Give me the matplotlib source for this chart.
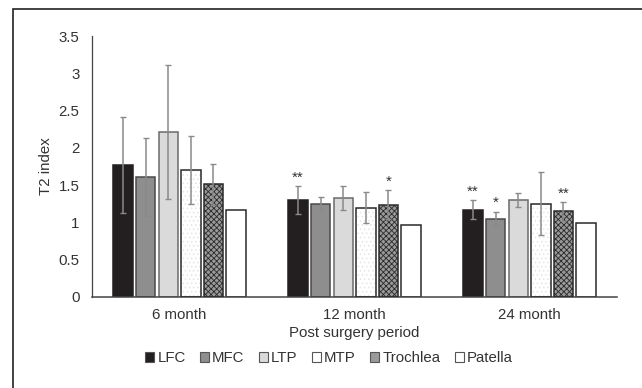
import numpy as np
import matplotlib
matplotlib.use("Agg")
import matplotlib.pyplot as plt
from matplotlib.patches import Rectangle, Patch

plt.rcParams['font.family'] = ['Liberation Sans', 'DejaVu Sans']
plt.rcParams['hatch.linewidth'] = 0.6

periods = ["6 month", "12 month", "24 month"]
regions = ["LFC", "MFC", "LTP", "MTP", "Trochlea", "Patella"]

# mean T2 index per region, one list per period
means = {
    "LFC":      [1.77, 1.30, 1.17],
    "MFC":      [1.61, 1.25, 1.05],
    "LTP":      [2.21, 1.33, 1.30],
    "MTP":      [1.70, 1.20, 1.25],
    "Trochlea": [1.51, 1.24, 1.15],
    "Patella":  [1.16, 0.96, 0.99],
}
errors = {
    "LFC":      [0.64, 0.19, 0.13],
    "MFC":      [0.52, 0.095, 0.095],
    "LTP":      [0.90, 0.16, 0.09],
    "MTP":      [0.455, 0.21, 0.42],
    "Trochlea": [0.275, 0.19, 0.125],
    "Patella":  [0.0, 0.0, 0.0],
}
# significance marks (region, period index, label)
stars = [("LFC", 1, "**"), ("Trochlea", 1, "*"),
         ("LFC", 2, "**"), ("MFC", 2, "*"), ("Trochlea", 2, "**")]

# styles
faces = {"LFC": "#231f20", "MFC": "#8e8e8e", "LTP": "#dadada",
         "MTP": "white", "Trochlea": "#9a9a9a", "Patella": "white"}
hatches = {"MTP": "....", "Trochlea": "xxxxxx"}
hatch_cols = {"MTP": "#e4e4e4", "Trochlea": "#2a2a2a"}
edges = {"LFC": "#231f20", "MFC": "#4a4a4a", "LTP": "#6a6a6a",
         "MTP": "#2a2a2a", "Trochlea": "#2a2a2a", "Patella": "#2a2a2a"}

fs = 10.8
fig = plt.figure(figsize=(6.42, 3.88), dpi=100)
ax = fig.add_axes([92 / 642, 1 - 297 / 388, 525 / 642, 261 / 388])

x = np.arange(len(periods))
width = 0.111
pitch = 0.129
offsets = (np.arange(len(regions)) - 2.5) * pitch

for i, r in enumerate(regions):
    xpos = x + offsets[i]
    if r in hatches:
        ax.bar(xpos, means[r], width, color=faces[r], edgecolor=hatch_cols[r],
               hatch=hatches[r], linewidth=0, zorder=2)
        ax.bar(xpos, means[r], width, fill=False, edgecolor=edges[r],
               linewidth=1.1, zorder=3)
    else:
        ax.bar(xpos, means[r], width, color=faces[r], edgecolor=edges[r],
               linewidth=1.1, zorder=2)
    err = np.array(errors[r])
    mask = err > 0
    ax.errorbar(xpos[mask], np.array(means[r])[mask], yerr=err[mask], fmt="none",
                ecolor="#8a8a8a", elinewidth=1.1, capsize=2, capthick=1, zorder=4)

for r, p, lab in stars:
    i = regions.index(r)
    top = means[r][p] + errors[r][p]
    ax.text(x[p] + offsets[i], top + 0.02, lab, ha="center", va="bottom",
            fontsize=11, color="#333333")

ax.set_xlim(-0.5, 2.5)
ax.set_ylim(0, 3.5)
ax.set_yticks(np.arange(0, 3.51, 0.5))
ax.set_yticklabels(["0", "0.5", "1", "1.5", "2", "2.5", "3", "3.5"])
ax.set_xticks(x)
ax.set_xticklabels(periods)
ax.tick_params(length=0, labelsize=fs, colors="#333333", pad=8)
ax.tick_params(axis="y", pad=9)
for s in ["top", "right"]:
    ax.spines[s].set_visible(False)
ax.spines["left"].set_color("#444444")
ax.spines["bottom"].set_color("#444444")
ax.spines["left"].set_linewidth(0.9)
ax.spines["bottom"].set_linewidth(1.1)

ax.set_ylabel("T2 index", fontsize=fs, color="#333333")
ax.yaxis.set_label_coords(-0.074, 0.5)
fig.text(354 / 642, 1 - 333 / 388, "Post surgery period", ha="center", va="center",
         fontsize=fs, color="#333333")

handles = [Patch(facecolor=faces[r], edgecolor="#555555", linewidth=0.8) for r in regions]
fig.legend(handles, regions, loc="center", bbox_to_anchor=(329 / 642, 1 - 358 / 388),
           ncol=6, frameon=False, fontsize=fs, handlelength=0.62, handleheight=0.62,
           handletextpad=0.2, columnspacing=0.95, labelcolor="#333333")

# outer frame of the figure panel
fig.patches.append(Rectangle((13 / 642, -0.1), 1.2, 1 - 9 / 388 + 0.1,
                             transform=fig.transFigure, fill=False,
                             edgecolor="#222222", linewidth=1.2))

fig.savefig("out.png", dpi=100)
